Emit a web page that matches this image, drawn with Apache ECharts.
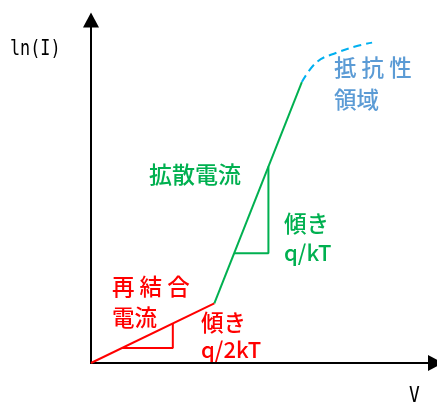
<!DOCTYPE html>
<html>
<head>
<meta charset="utf-8">
<script src="https://cdn.jsdelivr.net/npm/echarts@6/dist/echarts.min.js"></script>
<style>
  html, body { margin: 0; padding: 0; background: #fff; }
  #chart { width: 437px; height: 406px; }
</style>
</head>
<body>
<div id="chart"></div>
<script>
// Diode ln(I)–V characteristic, in arbitrary units (0–100 on both axes)
const recombination = [[0, 0], [35.8, 17.4]];
const diffusion = [[35.8, 17.4], [61.2, 81.9]];
const resistive = [[61.2, 81.9], [65.6, 87.8], [71.4, 90.5], [77.2, 92.4], [81.6, 93.4]];
// slope triangles drawn against each straight segment
const recombSlope = [[9.05, 4.4], [23.75, 4.4], [23.75, 11.54]];
const diffSlope = [[41.55, 32.0], [51.5, 32.0], [51.5, 57.3]];

const RED = '#ff0000';
const GREEN = '#00b050';
const CYAN = '#00b0f0';
const BLUE_TEXT = '#5b9bd5';
const JP = '"Noto Sans CJK JP", sans-serif';
const MONO = '"DejaVu Sans Mono", monospace';

const chart = echarts.init(document.getElementById('chart'), null, { renderer: 'canvas' });

const axisCommon = {
  type: 'value',
  min: 0,
  max: 100,
  axisLine: {
    show: true,
    onZero: false,
    symbol: ['none', 'triangle'],
    symbolSize: [16, 15],
    lineStyle: { color: '#000', width: 2 }
  },
  axisTick: { show: false },
  axisLabel: { show: false },
  splitLine: { show: false }
};

function lineSeries(data, color, extra) {
  return Object.assign({
    type: 'line',
    data: data,
    symbol: 'none',
    lineStyle: { color: color, width: 2 },
    z: 3
  }, extra || {});
}

function txt(text, x, y, color, size, family, sx, weight) {
  return {
    type: 'text',
    x: x,
    y: y,
    scaleX: sx || 1,
    style: {
      text: text,
      fill: color,
      font: (weight || 'normal') + ' ' + size + 'px ' + family,
      textAlign: 'left',
      textVerticalAlign: 'middle'
    }
  };
}

chart.setOption({
  animation: false,
  grid: { left: 91, top: 20, right: 1.5, bottom: 43, containLabel: false },
  xAxis: axisCommon,
  yAxis: axisCommon,
  series: [
    lineSeries(recombination, RED),
    lineSeries(diffusion, GREEN),
    lineSeries(resistive, CYAN, { smooth: 0.4, lineStyle: { color: CYAN, width: 2, type: [8, 5] } }),
    lineSeries(recombSlope, RED),
    lineSeries(diffSlope, GREEN)
  ],
  graphic: [
    txt('ln(I)', 10, 50, '#000', 21, MONO, 0.8),
    txt('V', 409, 397, '#000', 21, MONO, 0.85),
    txt('抵 抗 性', 334, 67, BLUE_TEXT, 22.5, JP, 1, 500),
    txt('領域', 334, 99, BLUE_TEXT, 22.5, JP, 1, 500),
    txt('拡散電流', 149, 174, GREEN, 23, JP, 1, 500),
    txt('傾き', 284, 223, GREEN, 22.5, JP, 1, 500),
    txt('q/kT', 284, 253, GREEN, 22, JP, 1, 500),
    txt('再 結 合', 112, 286, RED, 22.5, JP, 1, 500),
    txt('電流', 112, 317, RED, 22.5, JP, 1, 500),
    txt('傾き', 201, 322, RED, 22.5, JP, 1, 500),
    txt('q/2kT', 201, 350, RED, 22, JP, 1, 500)
  ]
});
</script>
</body>
</html>
